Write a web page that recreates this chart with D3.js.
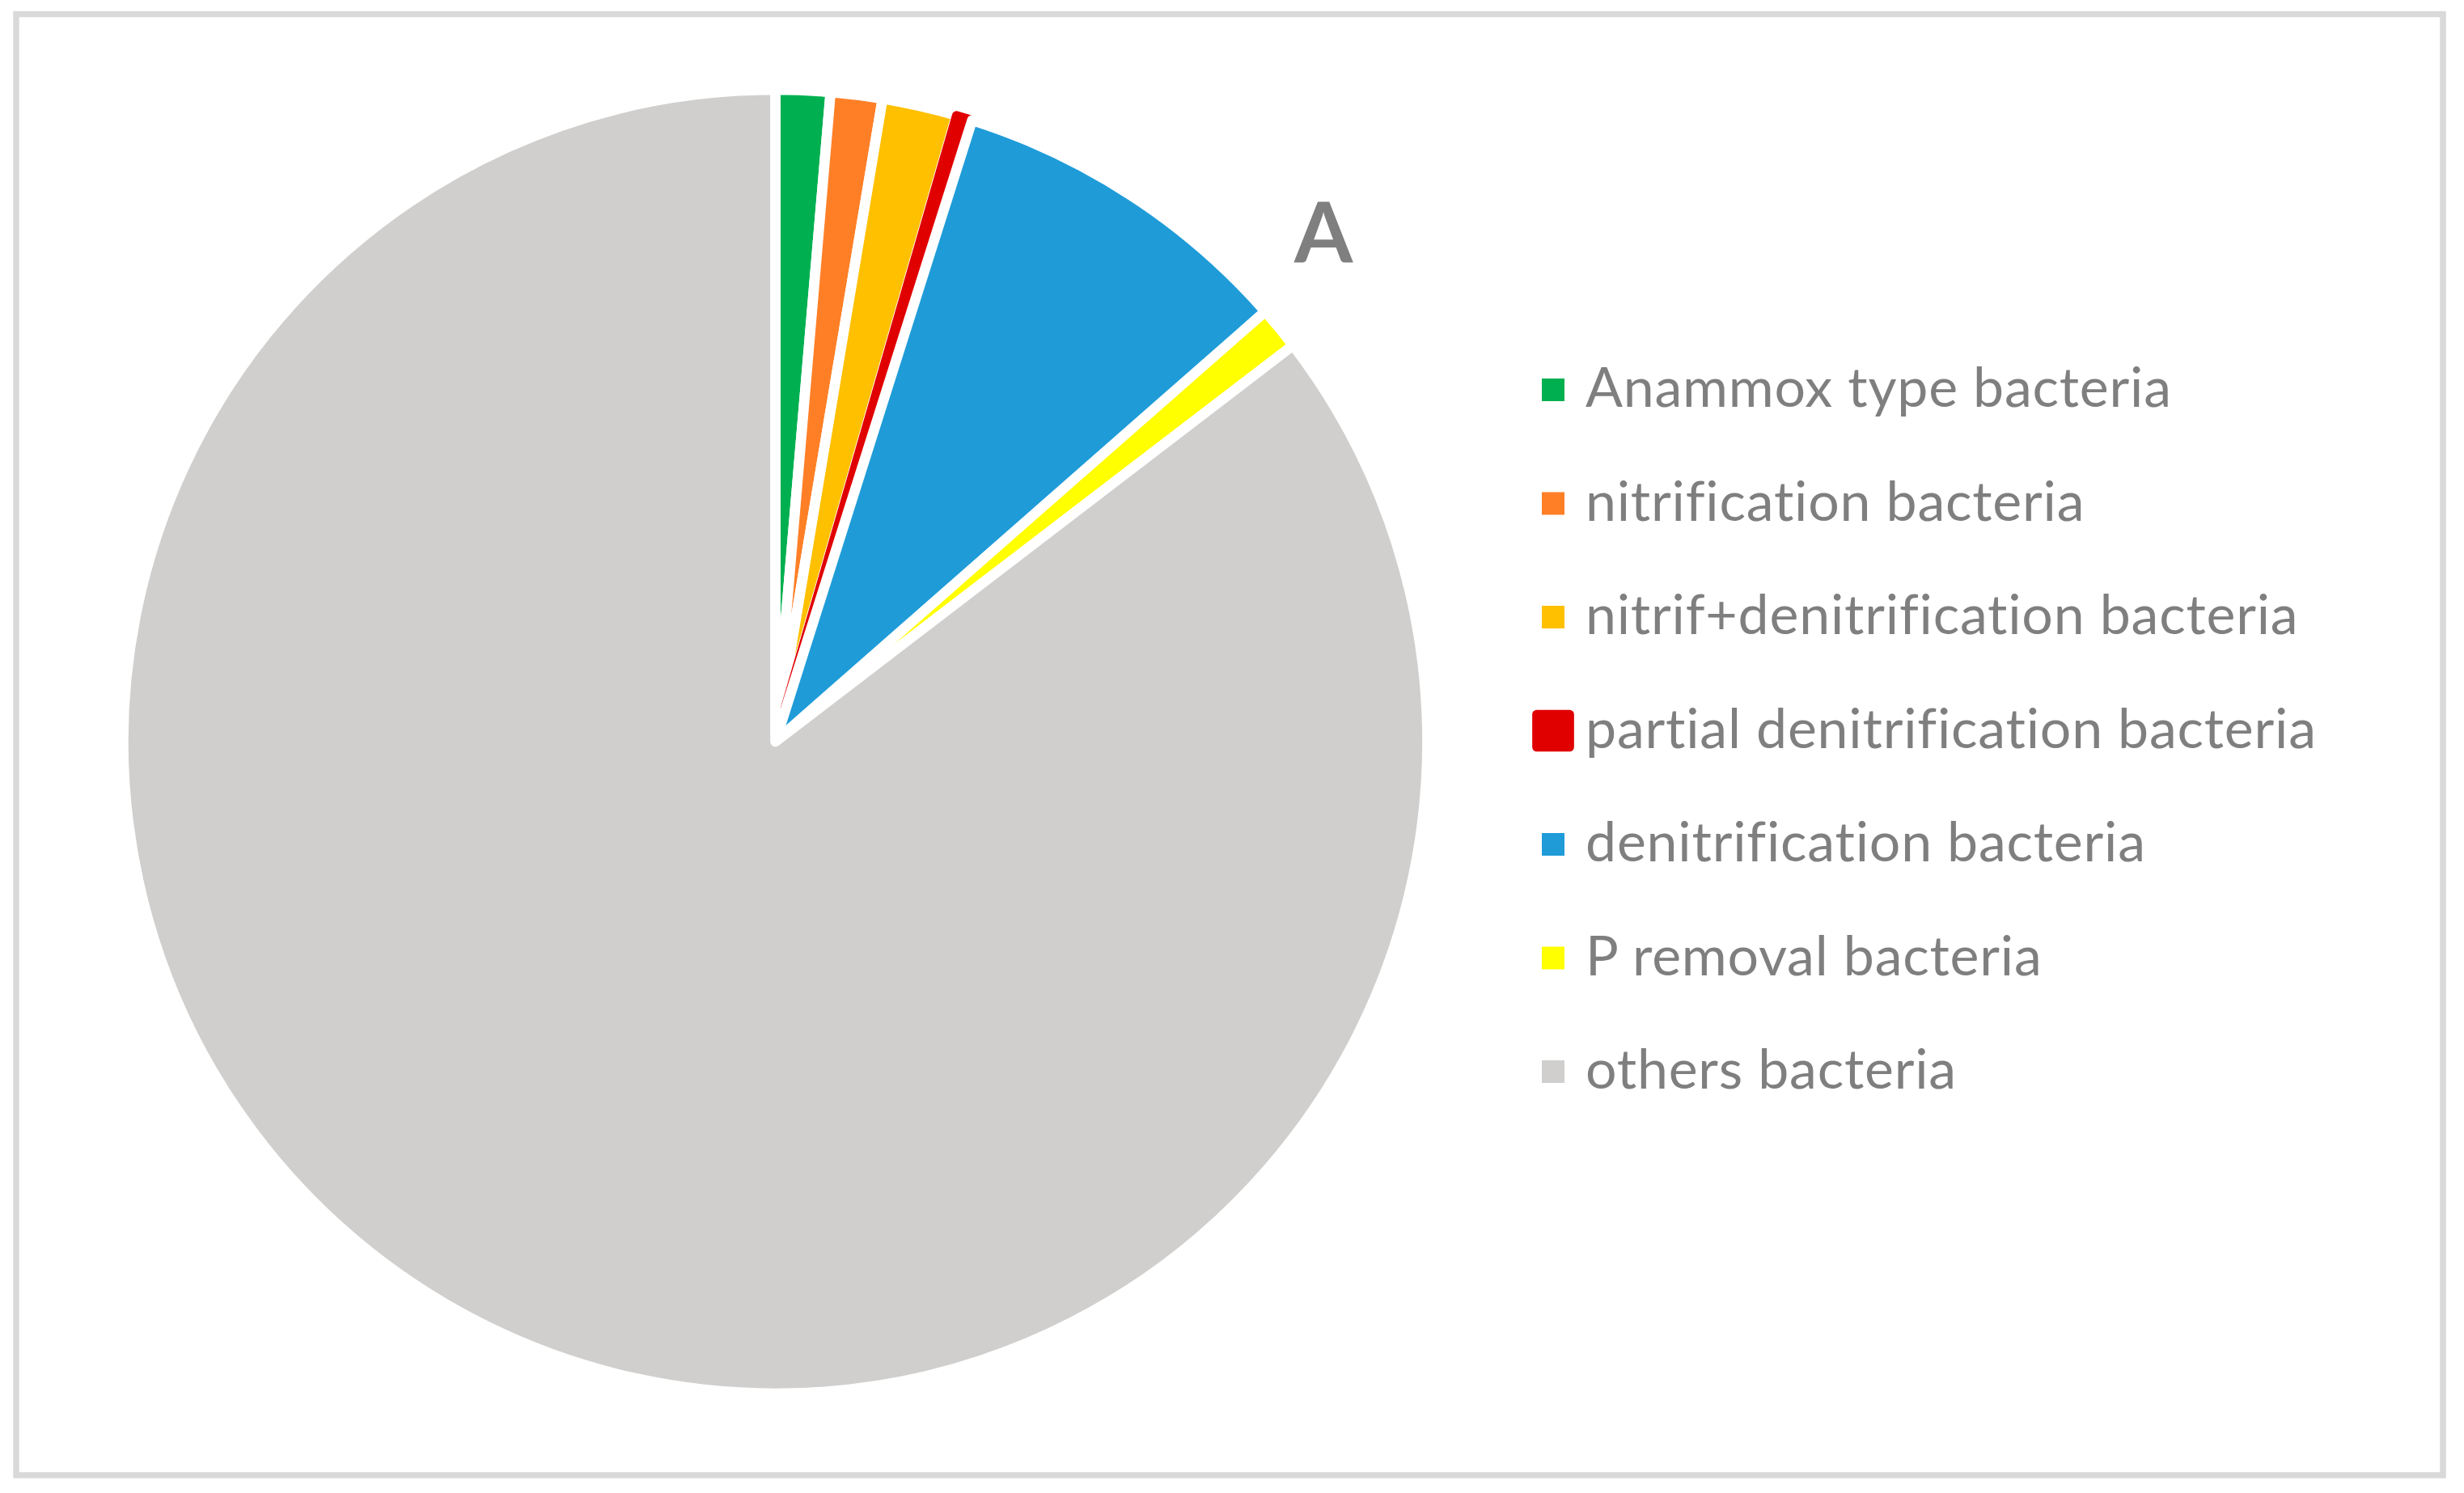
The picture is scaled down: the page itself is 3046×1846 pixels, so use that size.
<!DOCTYPE html>
<html>
<head>
<meta charset="utf-8">
<script src="https://cdn.jsdelivr.net/npm/d3@7"></script>
<style>
  html, body { margin: 0; padding: 0; background: #ffffff; }
  svg { display: block; }
</style>
</head>
<body>
<div id="chart"></div>
<script>
// pie slices, clockwise from 12 o'clock (percent of total)
var categories = ["Anammox type bacteria", "nitrification bacteria", "nitrif+denitrification bacteria",
                  "partial denitrification bacteria", "denitrification bacteria", "P removal bacteria", "others bacteria"];
var shares = [1.35, 1.28, 1.85, 0.40, 8.65, 1.07, 85.40];
var colors = ["#00B050", "#FF7F27", "#FFC000", "#E00000", "#1F9CD8", "#FFFF00", "#D0CFCD"];
var borders = ["#ffffff", "#ffffff", "#ffffff", "#E00000", "#ffffff", "#ffffff", "#ffffff"];
var panelLabel = "A";

var width = 3046, height = 1846;

var svg = d3.select("#chart").append("svg")
    .attr("width", width).attr("height", height);

// outer frame
svg.append("rect")
    .attr("x", 20).attr("y", 17.5)
    .attr("width", 3000).attr("height", 1806.5)
    .attr("fill", "#ffffff")
    .attr("stroke", "#D9D9D9")
    .attr("stroke-width", 7.5);

var rows = categories.map(function(c, i){ return {name: c, value: shares[i], color: colors[i], border: borders[i]}; });

var pie = d3.pie().sort(null).value(function(d){ return d.value; });
var arc = d3.arc().innerRadius(0).outerRadius(806);

var g = svg.append("g").attr("transform", "translate(958.5,917)");

g.selectAll("path")
  .data(pie(rows))
  .enter()
  .append("path")
    .attr("d", arc)
    .attr("fill", function(d){ return d.data.color; })
    .attr("stroke", function(d){ return d.data.border; })
    .attr("stroke-width", function(d){ return d.data.border == "#ffffff" ? 12.7 : 11; })
    .attr("stroke-linejoin", "round");

// panel letter
svg.append("text")
    .attr("x", 1636).attr("y", 324)
    .attr("text-anchor", "middle")
    .style("font-family", "Lato, 'Open Sans', sans-serif")
    .style("font-weight", "bold")
    .style("font-size", "104px")
    .attr("fill", "#7F7F7F")
    .text(panelLabel);

// legend
var legendY = d3.scalePoint().domain(categories).range([503, 1346]);

var legend = svg.append("g").selectAll("g")
  .data(rows)
  .enter()
  .append("g")
    .attr("transform", function(d){ return "translate(0," + legendY(d.name) + ")"; });

legend.append("rect")
    .attr("x", 1920 - 20.35).attr("y", -21 - 20.35)
    .attr("width", 40.7).attr("height", 40.7)
    .attr("fill", function(d){ return d.color; })
    .attr("stroke", function(d){ return d.border; })
    .attr("stroke-width", function(d){ return d.border == "#ffffff" ? 12.7 : 11; })
    .attr("stroke-linejoin", "round");

legend.append("text")
    .attr("x", 1960).attr("y", 0)
    .style("font-family", "Lato, 'Open Sans', sans-serif")
    .style("font-size", "68px")
    .style("letter-spacing", "0.8px")
    .attr("fill", "#7F7F7F")
    .text(function(d){ return d.name; });
</script>
</body>
</html>
